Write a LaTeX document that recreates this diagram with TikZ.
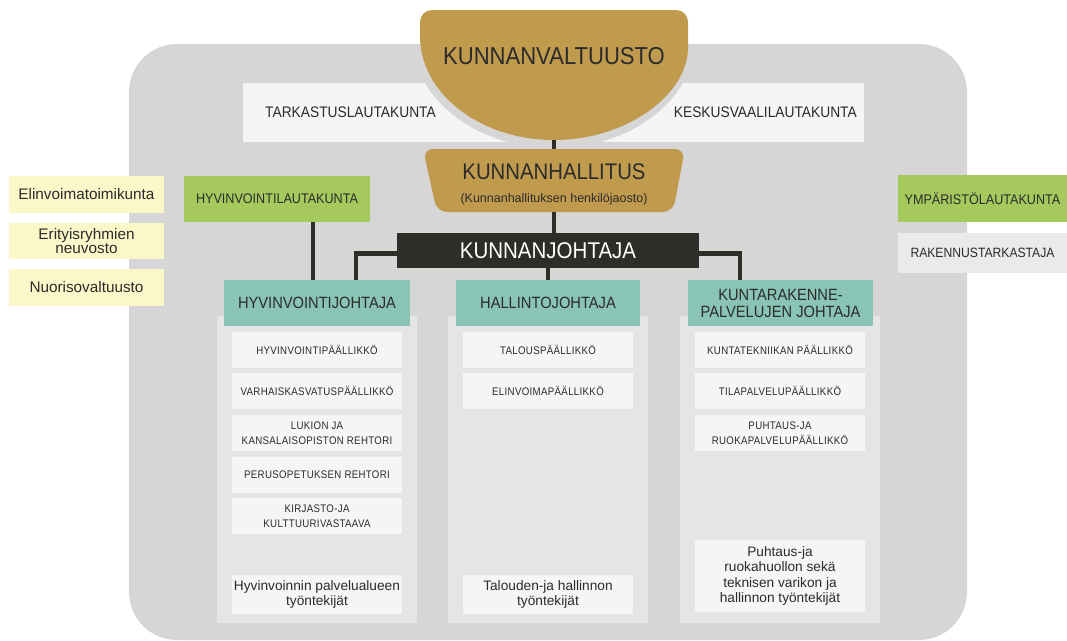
\documentclass[tikz,border=0pt]{standalone}
\usepackage{fontspec}
\setmainfont{Liberation Sans}
\newfontfamily\condfont[FakeStretch=0.9]{Liberation Sans}
\newfontfamily\pienfont[FakeStretch=0.88, LetterSpace=3]{Liberation Sans}
\usepackage{xcolor}
\usepackage{tikz}
\definecolor{tausta}{RGB}{214,214,214}
\definecolor{paneelinharmaa}{RGB}{229,229,229}
\definecolor{valkea}{RGB}{244,245,244}
\definecolor{kulta}{RGB}{193,155,77}
\definecolor{tumma}{RGB}{46,45,40}
\definecolor{turkoosi}{RGB}{137,196,180}
\definecolor{vihrea}{RGB}{166,201,94}
\definecolor{kelta}{RGB}{252,247,201}
\definecolor{vaaleanharmaa}{RGB}{233,234,236}
\definecolor{teksti}{RGB}{43,43,43}

\begin{document}
\begin{tikzpicture}[x=1pt, y=-1pt,
  laatikko/.style={rectangle, inner sep=0pt, align=center, text=teksti},
  yhteys/.style={draw=tumma, line width=4.5pt},
  keltaboksi/.style={laatikko, fill=kelta, minimum width=155, font=\fontsize{15.3}{14.5}\selectfont},
  lautakunta/.style={laatikko, minimum width=169, font=\condfont\fontsize{14}{16}\selectfont},
  johtajaboksi/.style={laatikko, fill=turkoosi, minimum height=46, font=\condfont\fontsize{16.3}{17}\selectfont},
  paneeli/.style={rectangle, fill=paneelinharmaa, minimum width=200, minimum height=307},
  tehtava/.style={laatikko, fill=valkea, minimum width=170, minimum height=36, font=\pienfont\fontsize{11}{15.5}\selectfont},
  tyontekijat/.style={laatikko, fill=valkea, minimum width=170, font=\fontsize{13.7}{15.5}\selectfont}]
  \useasboundingbox (0,0) rectangle (1067,640);

  % Tausta
  \fill[tausta, rounded corners=48pt] (129,44) rectangle (967,640);

  % Tarkastus- ja keskusvaalilautakunta
  \node[laatikko, fill=valkea, anchor=west, minimum height=59, text width=235, inner xsep=22, align=left,
    font=\condfont\fontsize{15.3}{17}\selectfont] (tark) at (243,112.5) {TARKASTUSLAUTAKUNTA};
  \node[laatikko, fill=valkea, anchor=east, minimum height=59, text width=247, inner xsep=7, align=right,
    font=\condfont\fontsize{15.3}{17}\selectfont] (kesk) at (864,112.5) {KESKUSVAALILAUTAKUNTA};

  % Kunnanvaltuusto
  \begin{scope}
    \clip (129,44) rectangle (967,640);
    \draw[tausta, line width=16pt] (688,36) arc[start angle=0, end angle=-180, x radius=134pt, y radius=104pt];
  \end{scope}
  \fill[kulta] (554,10) [rounded corners=12pt] -- (688,10) -- (688,36) [sharp corners]
    arc[start angle=0, end angle=-180, x radius=134pt, y radius=104pt] [rounded corners=12pt] -- (420,10) -- cycle;
  \node[font=\condfont\fontsize{24.5}{24.5}\selectfont, text=teksti] (valtuusto) at (554,56) {KUNNANVALTUUSTO};
  \coordinate (valtuustopohja) at (554,140);

  % Kunnanhallitus
  \fill[kulta, rounded corners=10pt] (423,149) -- (685,149) -- (673,212) -- (437,212) -- cycle;
  \node[laatikko, minimum width=262, minimum height=63, font=\fontsize{12.5}{23}\selectfont] (hallitus) at (554,180.5)
    {{\condfont\fontsize{22.6}{22.6}\selectfont\rule{0pt}{24.5pt}KUNNANHALLITUS}\\(Kunnanhallituksen henkilöjaosto)};

  % Kunnanjohtaja
  \node[laatikko, fill=tumma, text=white, minimum width=302, minimum height=35,
    font=\condfont\fontsize{22.8}{22.8}\selectfont] (johtaja) at (548,250.5) {KUNNANJOHTAJA};

  % Lautakunnat
  \node[lautakunta, fill=vihrea, minimum width=186, minimum height=46] (hlautakunta) at (277,199) {HYVINVOINTILAUTAKUNTA};
  \node[lautakunta, fill=vihrea, minimum height=47] (ymparisto) at (982.5,198.5) {YMPÄRISTÖLAUTAKUNTA};
  \node[lautakunta, fill=vaaleanharmaa, minimum height=40, font=\condfont\fontsize{13.5}{16}\selectfont] (rakennus) at (982.5,253) {RAKENNUSTARKASTAJA};

  % Toimielimet vasemmalla
  \node[keltaboksi, minimum height=37] (etoimikunta) at (86.5,194.5) {Elinvoimatoimikunta};
  \node[keltaboksi, minimum height=36] (erityis) at (86.5,241) {Erityisryhmien\\neuvosto};
  \node[keltaboksi, minimum height=37] (nuoriso) at (86.5,287.5) {Nuorisovaltuusto};

  % Palvelualueet
  \node[paneeli] (paneeliA) at (317,469.5) {};
  \node[paneeli] (paneeliB) at (547.5,469.5) {};
  \node[paneeli] (paneeliC) at (780,469) {};

  \node[johtajaboksi, minimum width=186] (hjohtaja) at (317,303) {HYVINVOINTIJOHTAJA};
  \node[johtajaboksi, minimum width=184] (hallinto) at (548,303) {HALLINTOJOHTAJA};
  \node[johtajaboksi, minimum width=185] (kuntarak) at (780.5,303) {KUNTARAKENNE-\\PALVELUJEN JOHTAJA};

  % Hyvinvointi
  \node[tehtava] (hpaallikko) at (317,350) {HYVINVOINTIPÄÄLLIKKÖ};
  \node[tehtava] (varhais) at (317,391) {VARHAISKASVATUSPÄÄLLIKKÖ};
  \node[tehtava] (lukio) at (317,433) {LUKION JA\\KANSALAISOPISTON REHTORI};
  \node[tehtava] (perus) at (317,475) {PERUSOPETUKSEN REHTORI};
  \node[tehtava] (kirjasto) at (317,516) {KIRJASTO-JA\\KULTTUURIVASTAAVA};
  \node[tyontekijat, minimum height=39] (htyo) at (317,594.5) {Hyvinvoinnin palvelualueen\\työntekijät};

  % Hallinto
  \node[tehtava] (talous) at (548,350) {TALOUSPÄÄLLIKKÖ};
  \node[tehtava] (elinvoima) at (548,391) {ELINVOIMAPÄÄLLIKKÖ};
  \node[tyontekijat, minimum height=39] (ttyo) at (548,594.5) {Talouden-ja hallinnon\\työntekijät};

  % Kuntarakenne
  \node[tehtava] (kuntatek) at (780,350) {KUNTATEKNIIKAN PÄÄLLIKKÖ};
  \node[tehtava] (tila) at (780,391) {TILAPALVELUPÄÄLLIKKÖ};
  \node[tehtava] (puhtaus) at (780,433) {PUHTAUS-JA\\RUOKAPALVELUPÄÄLLIKKÖ};
  \node[tyontekijat, minimum height=72] (ktyo) at (780,576) {Puhtaus-ja\\ruokahuollon sekä\\teknisen varikon ja\\hallinnon työntekijät};

  % Yhteydet
  \draw[yhteys] (valtuustopohja) -- (hallitus.north);
  \draw[yhteys] (hallitus.south) -- (hallitus.south |- johtaja.north);
  \draw[yhteys] (johtaja.south) -- (hallinto.north);
  \draw[yhteys] ([yshift=-3pt]johtaja.west) -| ([xshift=39pt]hjohtaja.north);
  \draw[yhteys] ([yshift=-3pt]johtaja.east) -| ([xshift=-40.5pt]kuntarak.north);
  \draw[yhteys] ([xshift=36pt]hlautakunta.south) -- ([xshift=36pt]hlautakunta.south |- hjohtaja.north);
\end{tikzpicture}
\end{document}
